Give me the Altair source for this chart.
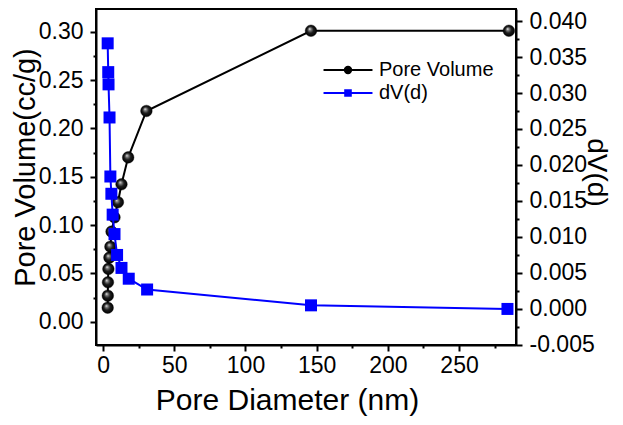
import altair as alt
import pandas as pd

# ---- data ----
diam_pv = [3.2, 3.3, 3.4, 3.7, 4.4, 5.1, 5.9, 8.0, 10.4, 12.9, 17.6, 30.4, 146, 285]
pore_volume = [0.0145, 0.0269, 0.0408, 0.0546, 0.0663, 0.0776, 0.0932, 0.108,
               0.1236, 0.1422, 0.170, 0.218, 0.301, 0.301]
diam_dv = [3.2, 3.6, 3.8, 4.5, 5.1, 5.8, 6.7, 8.0, 9.8, 12.9, 18.0, 30.9, 146, 284]
dv = [0.0369, 0.0329, 0.0312, 0.0266, 0.0184, 0.0160, 0.0131, 0.0104,
      0.0075, 0.0057, 0.0042, 0.0027, 0.0005, 0.0000]
series_names = ["Pore Volume", "dV(d)"]
series_colors = ["#000000", "#0000ff"]

x_ticks = list(range(0, 276, 25))
yl_ticks = [round(i * 0.025, 4) + 0.0 for i in range(13)]
yr_ticks = [round(-0.005 + i * 0.0025, 4) + 0.0 for i in range(19)]

FONT = "Liberation Sans"

pv_df = pd.DataFrame({"d": diam_pv, "v": pore_volume})
dv_df = pd.DataFrame({"d": diam_dv, "v": dv})
leg_df = pd.DataFrame({"series": series_names, "d": [None, None], "v": [None, None]})

x_scale = alt.Scale(domain=[-5, 290], nice=False, zero=False)
yl_scale = alt.Scale(domain=[-0.0241, 0.3235], nice=False, zero=False)
yr_scale = alt.Scale(domain=[-0.00501, 0.04167], nice=False, zero=False)

x_axis = alt.Axis(
    values=x_ticks, title="Pore Diameter (nm)", format="d",
    labelExpr="datum.value % 50 == 0 ? datum.label : ''",
    tickSize={"condition": {"test": "datum.value % 50 == 0", "value": 6}, "value": 3},
    labelPadding=3, labelFlush=False, labelOverlap=False,
    titleX=191, titleY=64, titleBaseline="alphabetic", titleAlign="center", titleFontSize=30,
)
yl_axis = alt.Axis(
    orient="left", values=yl_ticks, title="Pore Volume(cc/g)",
    labelExpr="abs(datum.value*20 - round(datum.value*20)) < 0.001 ? format(datum.value, '.2f') : ''",
    tickSize={"condition": {"test": "abs(datum.value*20 - round(datum.value*20)) < 0.001", "value": 6}, "value": 3},
    labelPadding=7, labelFlush=False, labelOverlap=False,
    titleAngle=270, titleX=-62, titleY=158, titleBaseline="alphabetic", titleAlign="center", titleFontSize=29,
)
yr_axis = alt.Axis(
    orient="right", values=yr_ticks, title="dV(d)",
    labelExpr="abs(datum.value*200 - round(datum.value*200)) < 0.001 ? replace(format(datum.value, '.3f'), '\u2212', '-') : ''",
    tickSize={"condition": {"test": "abs(datum.value*200 - round(datum.value*200)) < 0.001", "value": 6}, "value": 3},
    labelPadding=7, labelFlush=False, labelOverlap=False,
    titleAngle=90, titleX=71, titleY=163, titleBaseline="alphabetic", titleAlign="center", titleFontSize=28,
)

x_enc = alt.X("d:Q", scale=x_scale, axis=x_axis)

sphere = alt.RadialGradient(
    gradient="radial",
    stops=[
        alt.GradientStop(color="#ffffff", offset=0),
        alt.GradientStop(color="#8a8a8a", offset=0.2),
        alt.GradientStop(color="#1e1e1e", offset=0.55),
        alt.GradientStop(color="#000000", offset=1),
    ],
    x1=0.38, y1=0.33, r1=0, x2=0.5, y2=0.5, r2=0.5,
)

base_pv = alt.Chart(pv_df).encode(x=x_enc, y=alt.Y("v:Q", scale=yl_scale, axis=yl_axis))
pv_line = base_pv.mark_line(color="black", strokeWidth=2)
pv_pts = base_pv.mark_point(shape="circle", filled=True, size=135, fill=sphere,
                            stroke="#000000", strokeWidth=0.4, opacity=1)

path_circle = "M-3.06,0H3.06M-0.4,0A0.4,0.4 0 1,0 0.4,0A0.4,0.4 0 1,0 -0.4,0Z"
path_square = "M-3.06,0H3.06M-0.35,-0.35H0.35V0.35H-0.35Z"
ser_scale = alt.Scale(domain=series_names, range=series_colors)
legend_layer = alt.Chart(leg_df).mark_point(filled=True, strokeWidth=2, opacity=1).encode(
    x=x_enc,
    y=alt.Y("v:Q", scale=yl_scale, axis=yl_axis),
    color=alt.Color("series:N", scale=ser_scale, title=None),
    stroke=alt.Stroke("series:N", scale=ser_scale, title=None),
    shape=alt.Shape("series:N", scale=alt.Scale(domain=series_names, range=[path_circle, path_square]), title=None),
)

base_dv = alt.Chart(dv_df).encode(x=x_enc, y=alt.Y("v:Q", scale=yr_scale, axis=yr_axis))
dv_line = base_dv.mark_line(color="#0000ff", strokeWidth=2)
dv_pts = base_dv.mark_square(color="#0000ff", size=144, opacity=1)

chart = (
    alt.layer(
        alt.layer(pv_line, pv_pts, legend_layer),
        alt.layer(dv_line, dv_pts),
    )
    .resolve_scale(y="independent")
    .properties(
        width=420, height=336,
        padding={"left": 88, "top": 1, "right": 99, "bottom": 78},
        autosize=alt.AutoSizeParams(type="none"),
        background="white",
    )
    .configure_view(stroke="black", strokeWidth=2)
    .configure_axis(
        labelFont=FONT, labelFontSize=23, labelColor="black",
        titleFont=FONT, titleFontSize=28, titleColor="black", titleFontWeight="normal",
        tickColor="black", tickWidth=2, domainColor="black", domainWidth=2, grid=False,
    )
    .configure_legend(
        orient="none", legendX=242, legendY=51, padding=0,
        labelFont=FONT, labelFontSize=20, labelColor="black",
        symbolSize=256, symbolStrokeWidth=2, labelOffset=21, rowPadding=3,
    )
)

chart.save("out.html", embed_options={"renderer": "svg", "actions": False})
